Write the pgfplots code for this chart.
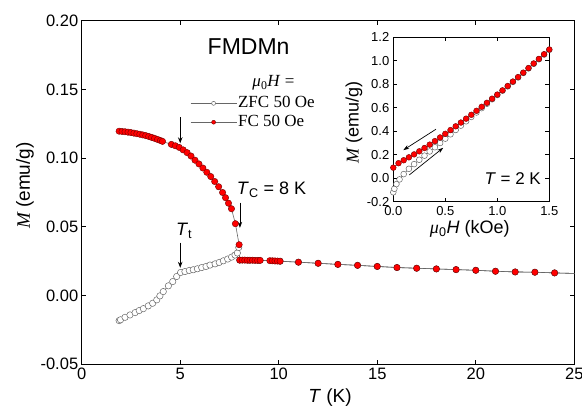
\documentclass[border=0pt]{standalone}
\usepackage{fontspec}
\setmainfont{Liberation Sans}
\newfontfamily\timesfont{Liberation Serif}
\usepackage{pgfplots}
\pgfplotsset{compat=1.18}
\usepackage{pgfplotstable}
\usetikzlibrary{arrows.meta}

% main panel: M(T), zero-field cooled and field cooled
\pgfplotstableread{
T M
1.90 -0.0182
1.97 -0.0176
2.20 -0.0158
2.45 -0.0141
2.71 -0.0124
2.92 -0.0109
3.13 -0.0095
3.38 -0.0075
3.60 -0.0056
3.81 -0.0031
3.97 -0.0002
4.14 0.0029
4.40 0.0071
4.62 0.0102
4.82 0.0139
5.02 0.0168
5.24 0.0175
5.46 0.0183
5.66 0.0188
5.87 0.0195
6.09 0.0204
6.31 0.0212
6.51 0.0222
6.77 0.0231
6.98 0.0241
7.19 0.0253
7.41 0.0266
7.61 0.0280
7.78 0.0295
7.90 0.0310
7.97 0.0350
8.02 0.0258
8.50 0.0257
9.00 0.0256
10.07 0.0250
11 0.0243
12 0.0235
13 0.0227
14 0.0220
15 0.0212
16 0.0204
17 0.0199
18 0.0194
19 0.0189
20 0.0184
21 0.0177
22 0.0172
23 0.0170
24 0.0165
25.5 0.0159
}\zfc

\pgfplotstableread{
T M
1.90 0.1196
2.05 0.1194
2.20 0.1192
2.35 0.1189
2.50 0.1186
2.65 0.1182
2.80 0.1178
2.95 0.1174
3.10 0.1169
3.25 0.1164
3.40 0.1158
3.55 0.1151
3.70 0.1144
3.85 0.1136
4.00 0.1128
4.10 0.1122
4.55 0.1100
4.75 0.1090
4.95 0.1078
5.15 0.1060
5.35 0.1040
5.55 0.1015
5.75 0.0985
5.95 0.0958
6.15 0.0928
6.35 0.0897
6.55 0.0866
6.75 0.0830
6.95 0.0792
7.15 0.0750
7.30 0.0712
7.45 0.0672
7.60 0.0632
7.80 0.0523
7.99 0.0370
8.02 0.0258
8.15 0.0258
8.28 0.0258
8.41 0.0257
8.54 0.0257
8.67 0.0257
8.80 0.0256
8.93 0.0256
9.06 0.0256
9.55 0.0254
9.68 0.0253
9.81 0.0252
9.94 0.0251
10.07 0.0250
11 0.0243
12 0.0235
13 0.0227
14 0.0220
15 0.0212
16 0.0204
17 0.0199
18 0.0194
19 0.0189
20 0.0184
21 0.0177
22 0.0172
23 0.0170
24 0.0165
25.5 0.0159
}\fc

% inset: M(H) at 2 K
\pgfplotstableread{
H M
0.00 -0.120
0.01 -0.090
0.03 -0.050
0.06 -0.010
0.10 0.035
0.15 0.080
0.20 0.120
0.25 0.157
0.30 0.192
0.35 0.228
0.40 0.264
0.45 0.300
0.50 0.337
0.55 0.374
0.60 0.411
0.65 0.448
0.70 0.485
0.75 0.522
0.80 0.560
0.85 0.597
0.90 0.634
0.95 0.672
1.00 0.708
1.05 0.745
1.10 0.782
1.15 0.820
1.20 0.858
1.25 0.896
1.30 0.935
1.35 0.974
1.40 1.013
1.45 1.053
1.50 1.093
}\mhup

\pgfplotstableread{
H M
0.00 0.090
0.05 0.128
0.10 0.153
0.15 0.178
0.20 0.203
0.25 0.229
0.30 0.257
0.35 0.286
0.40 0.316
0.45 0.347
0.50 0.378
0.55 0.410
0.60 0.442
0.65 0.474
0.70 0.507
0.75 0.540
0.80 0.574
0.85 0.608
0.90 0.642
0.95 0.677
1.00 0.712
1.05 0.748
1.10 0.785
1.15 0.823
1.20 0.861
1.25 0.899
1.30 0.938
1.35 0.977
1.40 1.016
1.45 1.056
1.50 1.096
}\mhdown

\pgfplotsset{
  every axis/.append style={
    scale only axis,
    axis line style={line width=1.1bp},
    tick style={line width=1bp, black},
    tick align=inside,
    major tick length=4.5bp,
    tick pos=both,
    xticklabel pos=lower, yticklabel pos=left,
    /pgf/number format/assume math mode=true,
  },
  dataline/.style={line width=0.6bp, color=black!60},
}

\begin{document}
\begin{tikzpicture}
\path[use as bounding box] (0,0) rectangle (582bp,410bp);
\begin{axis}[
  width=492.6bp, height=343.6bp,
  at={(81.7bp,45.7bp)}, anchor=south west,
  xmin=0, xmax=25, ymin=-0.05, ymax=0.20,
  xtick={0,5,10,15,20,25},
  ytick={-0.05,0,0.05,0.10,0.15,0.20},
  yticklabel style={/pgf/number format/fixed, /pgf/number format/fixed zerofill, /pgf/number format/precision=2},
  ticklabel style={font=\fontsize{16.5bp}{18bp}\selectfont},
  xlabel={\textit{T} (K)},
  ylabel={{\timesfont\itshape M} (emu/g)},
  label style={font=\fontsize{19bp}{22bp}\selectfont},
  xlabel style={at={([yshift=-33.5bp]axis description cs:0.504,0)}, anchor=center},
  ylabel style={at={([xshift=-56.7bp]axis description cs:0,0.52)}, anchor=center, rotate=0},
  legend style={at={(axis cs:5.35,0.1330)}, anchor=west, draw=none, fill=none,
    font=\timesfont\fontsize{17bp}{19bp}\selectfont,
    row sep=1.5bp, nodes={inner sep=1.2bp, text height=11.5bp, text depth=3.5bp}},
  legend cell align=left,
  legend image code/.code={\draw[mark repeat=2, mark phase=2, #1] plot coordinates {(0bp,0bp) (23bp,0bp) (46bp,0bp)};},
]
\addplot[dataline, forget plot, mark=*, mark size=3.2bp,
  mark options={fill=white, draw=black!60, line width=0.5bp}] table {\zfc};
\addplot[dataline, forget plot, mark=*, mark size=3.2bp,
  mark options={fill=red, draw=red!45!black, line width=0.4bp}] table {\fc};

\addlegendimage{dataline, mark=*, mark size=2bp, mark options={fill=white, draw=black!60, line width=0.5bp}}
\addlegendentry{ZFC 50 Oe}
\addlegendimage{dataline, mark=*, mark size=2bp, mark options={fill=red, draw=red!45!black, line width=0.4bp}}
\addlegendentry{FC 50 Oe}

\node[font=\fontsize{23bp}{26bp}\selectfont] at (axis cs:8.47,0.1815) {FMDMn};
\node[font=\timesfont\fontsize{17bp}{19bp}\selectfont] at (axis cs:9.73,0.1545) {\textit{μ}\textsubscript{0}\textit{H} =};
\node[anchor=base west, font=\fontsize{18bp}{20bp}\selectfont, inner sep=0pt] at (axis cs:7.87,0.0735) {\textit{T}\textsubscript{C} = 8 K};
\node[anchor=base west, font=\fontsize{18bp}{20bp}\selectfont, inner sep=0pt] at (axis cs:4.78,0.0436) {\textit{T}\textsubscript{t}};

\draw[line width=0.8bp, -{Stealth[length=6bp, width=4.5bp]}] (axis cs:5,0.1297) -- (axis cs:5,0.1108);
\draw[line width=0.8bp, -{Stealth[length=6bp, width=4.5bp]}] (axis cs:8.03,0.0677) -- (axis cs:8.03,0.0493);
\draw[line width=0.8bp, -{Stealth[length=6bp, width=4.5bp]}] (axis cs:5,0.0385) -- (axis cs:5,0.0202);
\end{axis}

\begin{axis}[
  width=156bp, height=164.4bp,
  at={(393.3bp,208.3bp)}, anchor=south west,
  axis background/.style={fill=white},
  xmin=0, xmax=1.5, ymin=-0.2, ymax=1.2,
  xtick={0,0.5,1,1.5},
  ytick={-0.2,0,0.2,0.4,0.6,0.8,1.0,1.2},
  major tick length=4bp,
  ticklabel style={font=\fontsize{13bp}{15bp}\selectfont, /pgf/number format/fixed, /pgf/number format/fixed zerofill, /pgf/number format/precision=1},
  xticklabel style={yshift=-1.5bp},
  yticklabel style={xshift=-0.5bp},
  xlabel={{\timesfont\itshape μ}\textsubscript{0}\textit{H} (kOe)},
  ylabel={{\timesfont\itshape M} (emu/g)},
  label style={font=\fontsize{18bp}{20bp}\selectfont},
  xlabel style={at={([yshift=-27.3bp]axis description cs:0.49,0)}, anchor=center},
  ylabel style={at={([xshift=-39.3bp]axis description cs:0,0.479)}, anchor=center},
]
\addplot[dataline, mark=*, mark size=2.9bp,
  mark options={fill=white, draw=black!60, line width=0.5bp}] table {\mhup};
\addplot[dataline, mark=*, mark size=2.9bp,
  mark options={fill=red, draw=red!45!black, line width=0.4bp}] table {\mhdown};
\draw[line width=0.7bp, -{Stealth[length=6bp, width=4bp]}] (axis cs:0.41,0.417) -- (axis cs:0.096,0.239);
\draw[line width=0.7bp, -{Stealth[length=6bp, width=4bp]}] (axis cs:0.154,0.028) -- (axis cs:0.48,0.259);
\node[anchor=east, font=\fontsize{17bp}{19bp}\selectfont, inner sep=0pt] at (axis cs:1.42,0.0) {\textit{T} = 2 K};
\end{axis}
\end{tikzpicture}
\end{document}
